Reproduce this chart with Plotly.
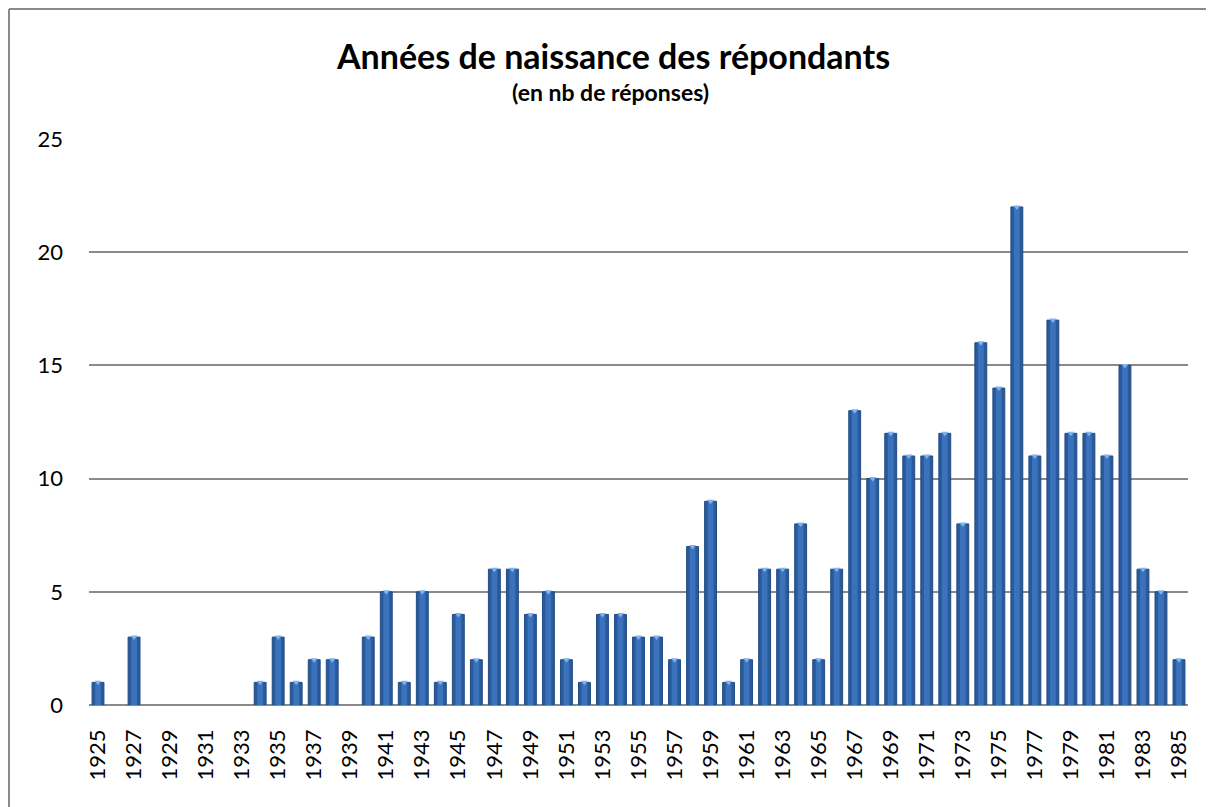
import plotly.graph_objects as go

years = list(range(1925, 1986))
counts = [1, 0, 3, 0, 0, 0, 0, 0, 0, 1, 3, 1, 2, 2, 0, 3, 5, 1, 5, 1,
          4, 2, 6, 6, 4, 5, 2, 1, 4, 4, 3, 3, 2, 7, 9, 1, 2, 6, 6, 8,
          2, 6, 13, 10, 12, 11, 11, 12, 8, 16, 14, 22, 11, 17, 12, 12, 11, 15, 6, 5,
          2]
tick_years = years[::2]
y_ticks = [0, 5, 10, 15, 20, 25]

title = "Années de naissance des répondants"
subtitle = "(en nb de réponses)"

# page body has an 8px margin, so target pixel positions are shifted by -8
OFF = 8
W, H = 1214, 807
L, R, T, B = 89 - OFF, 1188 - OFF, 139 - OFF, 705 - OFF
FONT = "Lato, Carlito, Calibri, sans-serif"

def px(x):
    return (x - OFF - L) / (R - L)

def py(y):
    return (B - (y - OFF)) / (B - T)

bar_vals = [c if c > 0 else None for c in counts]

fig = go.Figure()
fig.add_trace(go.Bar(x=years, y=bar_vals, width=0.66,
                     marker=dict(color="#2A5A9A", line=dict(color="#214C86", width=1)),
                     hoverinfo="x+y"))
fig.add_trace(go.Bar(x=years, y=bar_vals, width=0.32,
                     marker=dict(color="#3A73BC", line=dict(width=0)),
                     hoverinfo="skip"))
fig.add_trace(go.Scatter(x=years, y=bar_vals, mode="markers",
                         marker=dict(symbol="triangle-down", size=6, color="#7FB2EE",
                                     line=dict(width=0)),
                         hoverinfo="skip"))

fig.update_layout(
    width=W, height=H,
    margin=dict(l=L, r=W - R, t=T, b=H - B, pad=0),
    paper_bgcolor="white", plot_bgcolor="white",
    barmode="overlay", showlegend=False,
    font=dict(family=FONT, color="black", size=22),
    xaxis=dict(range=[1924.5, 1985.5], tickmode="array", tickvals=tick_years,
               ticktext=[str(y) for y in tick_years], tickangle=-90,
               showgrid=False, zeroline=False, showline=False, ticks="",
               ticklabelstandoff=19, tickfont=dict(size=22, family=FONT)),
    yaxis=dict(range=[0, 25], tickmode="array", tickvals=y_ticks,
               showgrid=True, gridcolor="#8A8A8A", gridwidth=1.5,
               zeroline=True, zerolinecolor="#8A8A8A", zerolinewidth=1.5,
               showline=False, ticks="", ticklabelstandoff=25,
               tickfont=dict(size=22, family=FONT)),
    annotations=[
        dict(text="<b>" + title + "</b>", xref="paper", yref="paper",
             x=px(613), y=py(55), xanchor="center", yanchor="middle",
             showarrow=False, font=dict(size=34, family=FONT, color="black")),
        dict(text="<b>" + subtitle + "</b>", xref="paper", yref="paper",
             x=px(610), y=py(92), xanchor="center", yanchor="middle",
             showarrow=False, font=dict(size=23, family=FONT, color="black")),
    ],
    shapes=[
        dict(type="line", xref="paper", yref="paper",
             x0=px(9), x1=px(9), y0=py(840), y1=py(9),
             line=dict(color="#8A8A8A", width=2), layer="below"),
        dict(type="line", xref="paper", yref="paper",
             x0=px(9), x1=px(1240), y0=py(9), y1=py(9),
             line=dict(color="#8A8A8A", width=2), layer="below"),
    ],
)

fig.write_html("out.html")
